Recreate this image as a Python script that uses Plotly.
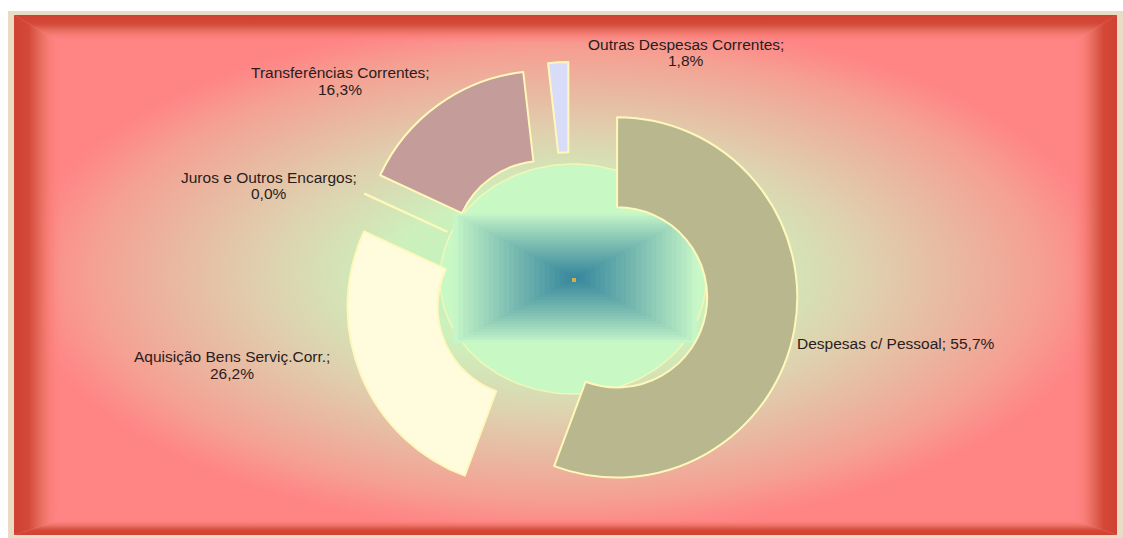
import numpy as np
import plotly.graph_objects as go

W, H = 1123, 538

# ---------------- data ----------------
categories = [
    "Despesas c/ Pessoal",
    "Aquisição Bens Serviç.Corr.",
    "Juros e Outros Encargos",
    "Transferências Correntes",
    "Outras Despesas Correntes",
]
shares = [55.7, 26.2, 0.04, 16.3, 1.8]
slice_colors = ["#b9b78e", "#fffcde", "#d8f8c8", "#c49c9a", "#d8dcf8"]

# label anchor points in pixels (centre x, first line y, second line y)
label_pos = [
    (896, 343, None),
    (232, 356, 373),
    (269, 177, 194),
    (340, 72, 89),
    (686, 44, 61),
]


def fmt(v):
    return f"{v:.1f}".replace(".", ",") + "%"


def Y(py):
    return H - py


def poly(pts, **kw):
    xs = [p[0] for p in pts] + [pts[0][0]]
    ys = [Y(p[1]) for p in pts] + [Y(pts[0][1])]
    return go.Scatter(x=xs, y=ys, mode="none", fill="toself", hoverinfo="skip",
                      showlegend=False, **kw)


fig = go.Figure()

# outer tan border
fig.add_trace(poly([(8, 11), (W, 11), (W, H), (8, H)], fillcolor="#e8dcc4"))

# main radial background
L, T, R, B = 14, 15, 1117, 535
fig.add_trace(poly([(L, T), (R, T), (R, B), (L, B)],
                   fillgradient=dict(type="radial", colorscale=[
                       [0.0, "#b8f4c0"], [0.32, "#cdf0bc"], [0.55, "#dfd0ae"],
                       [0.72, "#eab6a0"], [0.86, "#f5a092"], [0.96, "#fd8a88"],
                       [1.0, "#ff8484"]])))

# bevel frame bands
dark = [[0.0, "#cf4232"], [0.3, "#d44838"], [0.5, "#e26656"],
        [0.75, "rgba(246,120,112,0.55)"], [1.0, "rgba(255,132,132,0)"]]
dark_rev = [[1 - s, c] for s, c in reversed(dark)]
li, ri, ti, bi = 62, 1072, 43, 519
fig.add_trace(poly([(L, T), (li, ti), (li, bi), (L, B)],
                   fillgradient=dict(type="horizontal", start=L, stop=li, colorscale=dark)))
fig.add_trace(poly([(R, T), (ri, ti), (ri, bi), (R, B)],
                   fillgradient=dict(type="horizontal", start=ri, stop=R, colorscale=dark_rev)))
fig.add_trace(poly([(L, T), (R, T), (ri, ti), (li, ti)],
                   fillgradient=dict(type="vertical", start=Y(ti), stop=Y(T), colorscale=dark_rev)))
fig.add_trace(poly([(L, B), (R, B), (ri, bi), (li, bi)],
                   fillgradient=dict(type="vertical", start=Y(B), stop=Y(bi), colorscale=dark)))

# green ellipse behind the hole
t = np.linspace(0, 2 * np.pi, 200)
ex, ey = 573 + 133 * np.cos(t), 279 + 115 * np.sin(t)
fig.add_trace(go.Scatter(x=ex, y=H - ey, mode="lines", fill="toself",
                         fillcolor="#c8f8c4", line=dict(color="#f2f6b8", width=1.5),
                         hoverinfo="skip", showlegend=False))

# rectangular (pyramid) teal gradient in the centre
cx, cy, hw, hh = 575, 278, 122, 65
outer_c = np.array([198, 246, 200])
inner_c = np.array([56, 136, 158])
n = 24
for k in range(n):
    s = 1 - k / n
    f = (k / (n - 1)) ** 0.9
    c = outer_c * (1 - f) + inner_c * f
    col = "rgb(%d,%d,%d)" % tuple(c.astype(int))
    fig.add_trace(poly([(cx - hw * s, cy - hh * s), (cx + hw * s, cy - hh * s),
                        (cx + hw * s, cy + hh * s), (cx - hw * s, cy + hh * s)],
                       fillcolor=col))
fig.add_trace(go.Scatter(x=[574], y=[Y(280)], mode="markers",
                         marker=dict(symbol="square", size=4, color="#d8b040"),
                         hoverinfo="skip", showlegend=False))

# ---------------- the donut ----------------
cx0, cy0, half = 571, 289, 227
fig.add_trace(go.Pie(
    labels=categories, values=shares, sort=False, direction="clockwise",
    rotation=0, hole=0.5, pull=[0.26] * len(shares),
    marker=dict(colors=slice_colors, line=dict(color="#fff8bc", width=2)),
    textinfo="none", showlegend=False,
    domain=dict(x=[(cx0 - half) / W, (cx0 + half) / W],
                y=[1 - (cy0 + half) / H, 1 - (cy0 - half) / H]),
))

# ---------------- labels ----------------
annotations = []
for cat, v, (px, py1, py2) in zip(categories, shares, label_pos):
    font = dict(family="Liberation Sans, Arial, sans-serif", size=15.5, color="#2a1c1c")
    if py2 is None:
        annotations.append(dict(x=px / W, y=1 - py1 / H, xref="paper", yref="paper",
                                text=f"{cat}; {fmt(v)}", showarrow=False,
                                xanchor="center", yanchor="middle", font=font))
    else:
        annotations.append(dict(x=px / W, y=1 - py1 / H, xref="paper", yref="paper",
                                text=f"{cat};", showarrow=False,
                                xanchor="center", yanchor="middle", font=font))
        annotations.append(dict(x=px / W, y=1 - py2 / H, xref="paper", yref="paper",
                                text=fmt(v), showarrow=False,
                                xanchor="center", yanchor="middle", font=font))

fig.update_layout(
    width=W, height=H, margin=dict(l=0, r=0, t=0, b=0),
    paper_bgcolor="white", plot_bgcolor="rgba(0,0,0,0)",
    xaxis=dict(range=[0, W], visible=False, fixedrange=True, domain=[0, 1]),
    yaxis=dict(range=[0, H], visible=False, fixedrange=True, domain=[0, 1]),
    annotations=annotations, showlegend=False,
)

fig.write_html("out.html")
